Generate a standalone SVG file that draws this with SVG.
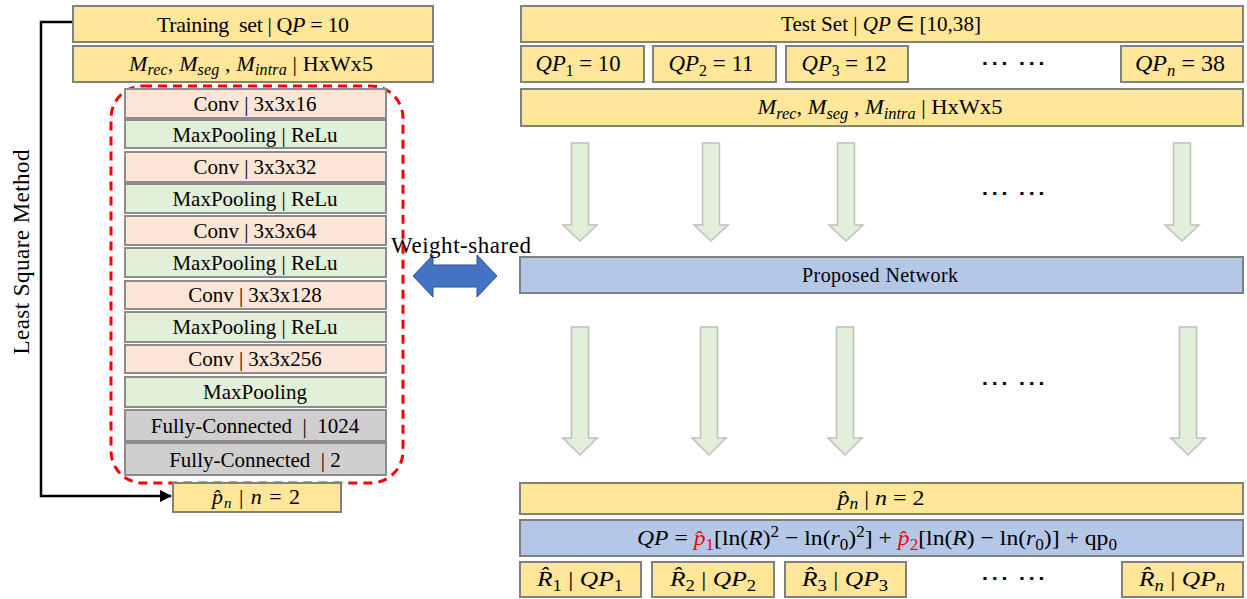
<svg xmlns="http://www.w3.org/2000/svg" width="1247" height="599" viewBox="0 0 1247 599">
<defs>
<style>
.t{font-family:"Liberation Serif","Times New Roman",serif;fill:#000;text-anchor:middle}
.m{font-style:italic}
.y{fill:#FFE699;stroke:#808080;stroke-width:2}
.c{fill:#FBE5D6;stroke:#8C8C8C;stroke-width:2}
.g{fill:#E2F0D9;stroke:#8C8C8C;stroke-width:2}
.f{fill:#D0CECE;stroke:#8C8C8C;stroke-width:2}
.b{fill:#B4C7E7;stroke:#808080;stroke-width:2}
.ga{fill:#E2F0D9;stroke:#BFBFBF;stroke-width:1.5}
.r{fill:#FF0000}
</style>
<marker id="ah" markerWidth="12" markerHeight="12" refX="11" refY="6" orient="auto" markerUnits="userSpaceOnUse">
<path d="M0,0 L12,6 L0,12 z" fill="#000"/>
</marker>
<path id="arT" d="M-8.5,0 h17 v82 h8.5 l-17,16 l-17,-16 h8.5 z"/>
<path id="arB" d="M-8.5,0 h17 v111 h8.5 l-17,17 l-17,-17 h8.5 z"/>
</defs>

<!-- connectors -->
<g id="connectors">
<polyline points="73,22 41,22 41,496 171,496" fill="none" stroke="#000" stroke-width="2.5" marker-end="url(#ah)"/>
<path d="M413,276 L433,255 V265 H477 V255 L497,276 L477,297 V287 H433 V297 z" fill="#4472C4" stroke="#2F528F" stroke-width="1"/>
<g class="ga">
<use href="#arT" x="580" y="143"/>
<use href="#arT" x="711" y="143"/>
<use href="#arT" x="846" y="143"/>
<use href="#arT" x="1182" y="143"/>
<use href="#arB" x="580" y="327"/>
<use href="#arB" x="709" y="327"/>
<use href="#arB" x="845" y="327"/>
<use href="#arB" x="1188" y="327"/>
</g>
</g>

<text class="t" font-size="23" transform="translate(29,252) rotate(-90)" textLength="205">Least Square Method</text>
<text class="t" font-size="23" x="461" y="253" textLength="140">Weight-shared</text>

<!-- left column -->
<g id="training-set">
<rect class="y" x="73" y="6" width="360" height="36"/>
<text class="t" font-size="22" x="253" y="32" textLength="192">Training&#160; set | Q<tspan class="m">P</tspan> = 10</text>
</g>
<g id="input-left">
<rect class="y" x="73" y="46" width="360" height="36"/>
<text class="t" font-size="22" x="251" y="71" textLength="244"><tspan class="m">M</tspan><tspan class="m" font-size="16" dy="4">rec</tspan><tspan dy="-4">, </tspan><tspan class="m">M</tspan><tspan class="m" font-size="16" dy="4">seg</tspan><tspan dy="-4"> , </tspan><tspan class="m">M</tspan><tspan class="m" font-size="16" dy="4">intra</tspan><tspan dy="-4"> | HxWx5</tspan></text>
</g>

<g id="network">
<rect x="111" y="86" width="292" height="397" rx="32" fill="none" stroke="#FF0000" stroke-width="3" stroke-dasharray="9,6"/>
<rect class="c" x="125" y="89" width="261" height="29"/>
<text class="t" font-size="21" x="255" y="111">Conv | 3x3x16</text>
<rect class="g" x="125" y="120" width="261" height="28"/>
<text class="t" font-size="21" x="255" y="142">MaxPooling | ReLu</text>
<rect class="c" x="125" y="152" width="261" height="30"/>
<text class="t" font-size="21" x="255" y="174">Conv | 3x3x32</text>
<rect class="g" x="125" y="184" width="261" height="29"/>
<text class="t" font-size="21" x="255" y="206">MaxPooling | ReLu</text>
<rect class="c" x="125" y="216" width="261" height="29"/>
<text class="t" font-size="21" x="255" y="238">Conv | 3x3x64</text>
<rect class="g" x="125" y="248" width="261" height="29"/>
<text class="t" font-size="21" x="255" y="270">MaxPooling | ReLu</text>
<rect class="c" x="125" y="281" width="261" height="28"/>
<text class="t" font-size="21" x="255" y="302">Conv | 3x3x128</text>
<rect class="g" x="125" y="312" width="261" height="30"/>
<text class="t" font-size="21" x="255" y="334">MaxPooling | ReLu</text>
<rect class="c" x="125" y="345" width="261" height="28"/>
<text class="t" font-size="21" x="255" y="366">Conv | 3x3x256</text>
<rect class="g" x="125" y="377" width="261" height="30"/>
<text class="t" font-size="21" x="255" y="399">MaxPooling</text>
<rect class="f" x="125" y="410" width="261" height="31"/>
<text class="t" font-size="21" x="255" y="433">Fully-Connected&#160; |&#160; 1024</text>
<rect class="f" x="125" y="443" width="261" height="32"/>
<text class="t" font-size="21" x="255" y="467">Fully-Connected&#160; | 2</text>
</g>

<g id="pn-left">
<rect class="y" x="173" y="483" width="168" height="29"/>
<text class="t" font-size="22" x="256" y="504" textLength="88"><tspan class="m">p̂</tspan><tspan class="m" font-size="15" dy="4">n</tspan><tspan dy="-4"> | </tspan><tspan class="m">n</tspan> = 2</text>
</g>

<!-- right column -->
<g id="test-set">
<rect class="y" x="521" y="6" width="722" height="36"/>
<text class="t" font-size="21" x="881" y="31" textLength="200" lengthAdjust="spacingAndGlyphs">Test Set | <tspan class="m">QP</tspan>&#160;∈ [10,38]</text>
</g>
<g id="qp1"><rect class="y" x="521" y="46" width="123" height="36"/>
<text class="t" font-size="23" x="578" y="71" textLength="85" lengthAdjust="spacingAndGlyphs"><tspan class="m">QP</tspan><tspan font-size="16" dy="5">1</tspan><tspan dy="-5"> = 10</tspan></text></g>
<g id="qp2"><rect class="y" x="653" y="46" width="123" height="36"/>
<text class="t" font-size="23" x="711" y="71" textLength="85" lengthAdjust="spacingAndGlyphs"><tspan class="m">QP</tspan><tspan font-size="16" dy="5">2</tspan><tspan dy="-5"> = 11</tspan></text></g>
<g id="qp3"><rect class="y" x="786" y="46" width="122" height="36"/>
<text class="t" font-size="23" x="844" y="71" textLength="85" lengthAdjust="spacingAndGlyphs"><tspan class="m">QP</tspan><tspan font-size="16" dy="5">3</tspan><tspan dy="-5"> = 12</tspan></text></g>
<text class="t" font-size="22" x="1013" y="70" textLength="66" lengthAdjust="spacingAndGlyphs">⋯ ⋯</text>
<g id="qpn"><rect class="y" x="1121" y="46" width="122" height="36"/>
<text class="t" font-size="23" x="1180" y="71" textLength="90" lengthAdjust="spacingAndGlyphs"><tspan class="m">QP</tspan><tspan class="m" font-size="16" dy="5">n</tspan><tspan dy="-5"> = 38</tspan></text></g>

<g id="input-right">
<rect class="y" x="521" y="89" width="722" height="37"/>
<text class="t" font-size="22" x="880" y="114" textLength="245" lengthAdjust="spacingAndGlyphs"><tspan class="m">M</tspan><tspan class="m" font-size="16" dy="5">rec</tspan><tspan dy="-5">, </tspan><tspan class="m">M</tspan><tspan class="m" font-size="16" dy="5">seg</tspan><tspan dy="-5"> , </tspan><tspan class="m">M</tspan><tspan class="m" font-size="16" dy="5">intra</tspan><tspan dy="-5"> | HxWx5</tspan></text>
</g>

<text class="t" font-size="22" x="1013" y="200" textLength="66" lengthAdjust="spacingAndGlyphs">⋯ ⋯</text>

<g id="proposed-network">
<rect class="b" x="520" y="257" width="723" height="36"/>
<text class="t" font-size="20" x="880" y="282" textLength="156">Proposed Network</text>
</g>

<text class="t" font-size="22" x="1013" y="390" textLength="66" lengthAdjust="spacingAndGlyphs">⋯ ⋯</text>

<g id="pn-right">
<rect class="y" x="520" y="483" width="723" height="31"/>
<text class="t" font-size="22" x="881" y="505" textLength="87" lengthAdjust="spacingAndGlyphs"><tspan class="m">p̂</tspan><tspan class="m" font-size="16" dy="4">n</tspan><tspan dy="-4"> | </tspan><tspan class="m">n</tspan> = 2</text>
</g>

<g id="formula">
<rect class="b" x="520" y="520" width="723" height="36"/>
<text class="t" font-size="22" x="877" y="545" textLength="480" lengthAdjust="spacingAndGlyphs"><tspan class="m">QP</tspan> = <tspan class="m r">p̂</tspan><tspan class="r" font-size="16" dy="5">1</tspan><tspan dy="-5">[ln(</tspan><tspan class="m">R</tspan>)<tspan font-size="16" dy="-8">2</tspan><tspan dy="8"> − ln(</tspan><tspan class="m">r</tspan><tspan font-size="16" dy="5">0</tspan><tspan dy="-5">)</tspan><tspan font-size="16" dy="-8">2</tspan><tspan dy="8">] + </tspan><tspan class="m r">p̂</tspan><tspan class="r" font-size="16" dy="5">2</tspan><tspan dy="-5">[ln(</tspan><tspan class="m">R</tspan>) − ln(<tspan class="m">r</tspan><tspan font-size="16" dy="5">0</tspan><tspan dy="-5">)] + qp</tspan><tspan font-size="16" dy="5">0</tspan></text>
</g>

<g id="r1"><rect class="y" x="520" y="562" width="121" height="35"/>
<text class="t" font-size="22" x="580" y="586" textLength="86" lengthAdjust="spacingAndGlyphs"><tspan class="m">R̂</tspan><tspan font-size="16" dy="5">1</tspan><tspan dy="-5"> | </tspan><tspan class="m">QP</tspan><tspan font-size="16" dy="5">1</tspan></text></g>
<g id="r2"><rect class="y" x="652" y="562" width="122" height="35"/>
<text class="t" font-size="22" x="713" y="586" textLength="86" lengthAdjust="spacingAndGlyphs"><tspan class="m">R̂</tspan><tspan font-size="16" dy="5">2</tspan><tspan dy="-5"> | </tspan><tspan class="m">QP</tspan><tspan font-size="16" dy="5">2</tspan></text></g>
<g id="r3"><rect class="y" x="785" y="562" width="121" height="35"/>
<text class="t" font-size="22" x="845" y="586" textLength="86" lengthAdjust="spacingAndGlyphs"><tspan class="m">R̂</tspan><tspan font-size="16" dy="5">3</tspan><tspan dy="-5"> | </tspan><tspan class="m">QP</tspan><tspan font-size="16" dy="5">3</tspan></text></g>
<text class="t" font-size="22" x="1013" y="585" textLength="66" lengthAdjust="spacingAndGlyphs">⋯ ⋯</text>
<g id="rn"><rect class="y" x="1122" y="562" width="121" height="35"/>
<text class="t" font-size="22" x="1182" y="586" textLength="86" lengthAdjust="spacingAndGlyphs"><tspan class="m">R̂</tspan><tspan class="m" font-size="16" dy="5">n</tspan><tspan dy="-5"> | </tspan><tspan class="m">QP</tspan><tspan class="m" font-size="16" dy="5">n</tspan></text></g>
</svg>
